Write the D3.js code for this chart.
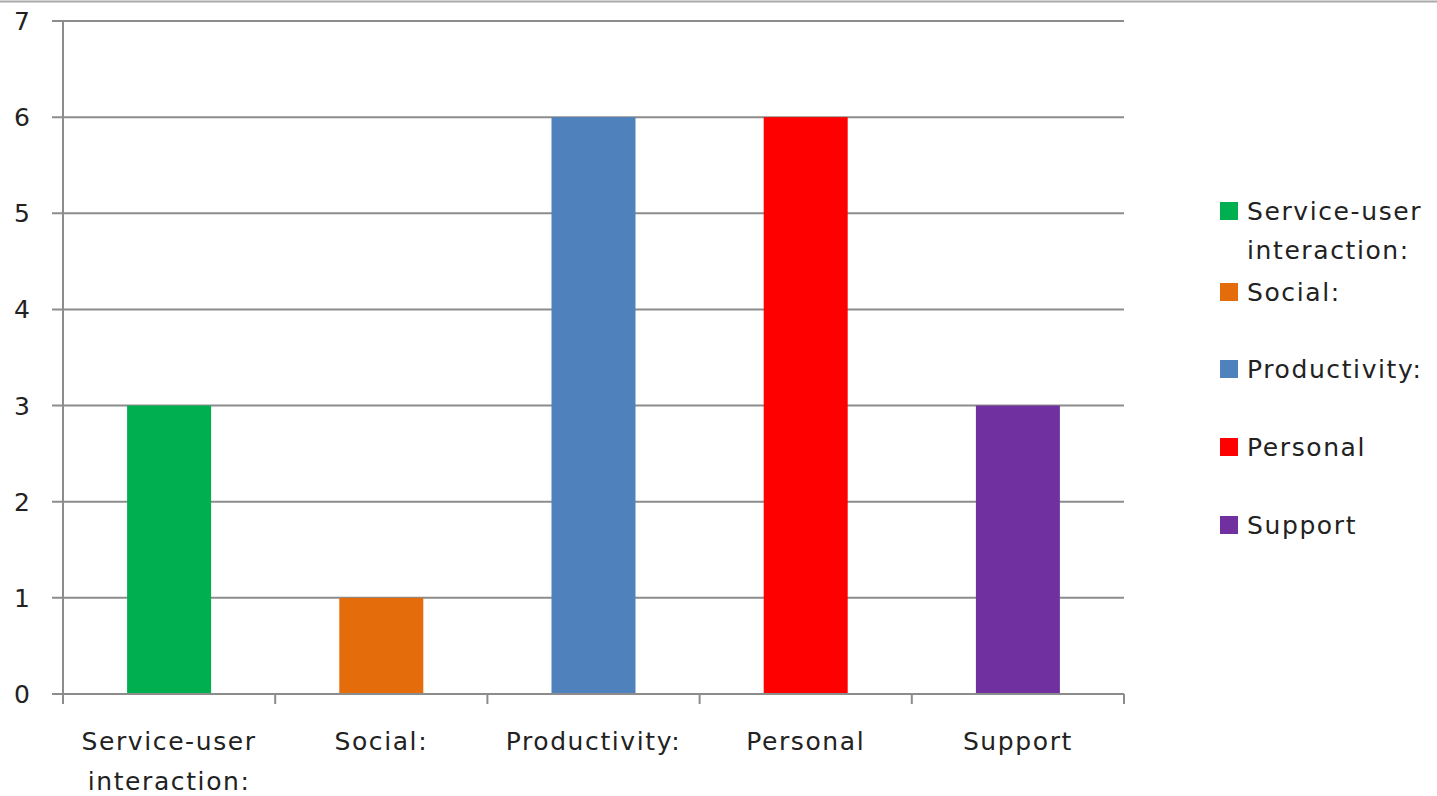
<!DOCTYPE html>
<html>
<head>
<meta charset="utf-8">
<script src="https://cdn.jsdelivr.net/npm/d3@7"></script>
<style>
  html, body { margin: 0; padding: 0; background: #fff; }
  svg { display: block; }
  text { font-family: "DejaVu Sans", sans-serif; fill: #222; }
  .lbl { letter-spacing: 1.6px; }
</style>
</head>
<body>
<svg id="chart" width="1437" height="796"></svg>
<script>
// Category names (line breaks split long names over two lines)
const categories = ["Service-user interaction:", "Social:", "Productivity:", "Personal", "Support"];
const categoryLines = [["Service-user", "interaction:"], ["Social:"], ["Productivity:"], ["Personal"], ["Support"]];
const values = [3, 1, 6, 6, 3];
const colors = ["#00b050", "#e46c0a", "#4f81bd", "#ff0000", "#7030a0"];
const yTicks = [0, 1, 2, 3, 4, 5, 6, 7];

const svg = d3.select("#chart");
const plot = { left: 63, right: 1124, top: 21, bottom: 694 };

// top border line across the frame
svg.append("line")
  .attr("x1", 0).attr("x2", 1437).attr("y1", 1.5).attr("y2", 1.5)
  .attr("stroke", "#aaa").attr("stroke-width", 2);

const x = d3.scaleBand().domain(categories).range([plot.left, plot.right]).paddingInner(0).paddingOuter(0);
const y = d3.scaleLinear().domain([0, 7]).range([plot.bottom, plot.top]);

// horizontal gridlines with short ticks left of the axis
svg.append("g").selectAll("line").data(yTicks.filter(d => d > 0)).join("line")
  .attr("x1", plot.left - 11).attr("x2", plot.right)
  .attr("y1", d => y(d)).attr("y2", d => y(d))
  .attr("stroke", "#8c8c8c").attr("stroke-width", 2);

// y tick labels
svg.append("g").selectAll("text").data(yTicks).join("text")
  .attr("x", 22).attr("y", d => y(d))
  .attr("dy", "0.36em")
  .attr("text-anchor", "middle")
  .attr("font-size", 25)
  .text(d => d);

// bars
const barW = 84;
svg.append("g").selectAll("rect").data(categories).join("rect")
  .attr("x", d => x(d) + x.bandwidth() / 2 - barW / 2)
  .attr("width", barW)
  .attr("y", (d, i) => y(values[i]))
  .attr("height", (d, i) => y(0) - y(values[i]))
  .attr("fill", (d, i) => colors[i]);

// y axis line
svg.append("line")
  .attr("x1", plot.left).attr("x2", plot.left)
  .attr("y1", plot.top).attr("y2", plot.bottom + 10)
  .attr("stroke", "#8c8c8c").attr("stroke-width", 2);

// x axis line and category boundary ticks
svg.append("line")
  .attr("x1", plot.left - 11).attr("x2", plot.right)
  .attr("y1", plot.bottom).attr("y2", plot.bottom)
  .attr("stroke", "#8c8c8c").attr("stroke-width", 2);
const boundaries = categories.map(d => x(d)).concat([plot.right]);
svg.append("g").selectAll("line").data(boundaries).join("line")
  .attr("x1", d => d).attr("x2", d => d)
  .attr("y1", plot.bottom).attr("y2", plot.bottom + 10)
  .attr("stroke", "#8c8c8c").attr("stroke-width", 2);

// x category labels
const xl = svg.append("g").selectAll("text").data(categories).join("text")
  .attr("class", "lbl")
  .attr("text-anchor", "middle")
  .attr("font-size", 25)
  .attr("transform", d => `translate(${x(d) + x.bandwidth() / 2},750)`);
xl.selectAll("tspan").data((d, i) => categoryLines[i]).join("tspan")
  .attr("x", 0).attr("dy", (d, j) => j === 0 ? 0 : 40)
  .text(d => d);

// legend
const legendRows = [
  { lines: ["Service-user", "interaction:"], y: 211 },
  { lines: ["Social:"], y: 292 },
  { lines: ["Productivity:"], y: 369 },
  { lines: ["Personal"], y: 447 },
  { lines: ["Support"], y: 525 }
];
const lg = svg.append("g").selectAll("g").data(legendRows).join("g")
  .attr("transform", d => `translate(1220,${d.y})`);
lg.append("rect")
  .attr("x", 0).attr("y", -9).attr("width", 18).attr("height", 18)
  .attr("fill", (d, i) => colors[i]);
lg.append("text")
  .attr("class", "lbl")
  .attr("x", 27).attr("y", 0)
  .attr("font-size", 25)
  .selectAll("tspan").data(d => d.lines).join("tspan")
  .attr("x", 27).attr("dy", (d, j) => j === 0 ? "0.36em" : 39)
  .text(d => d);
</script>
</body>
</html>
